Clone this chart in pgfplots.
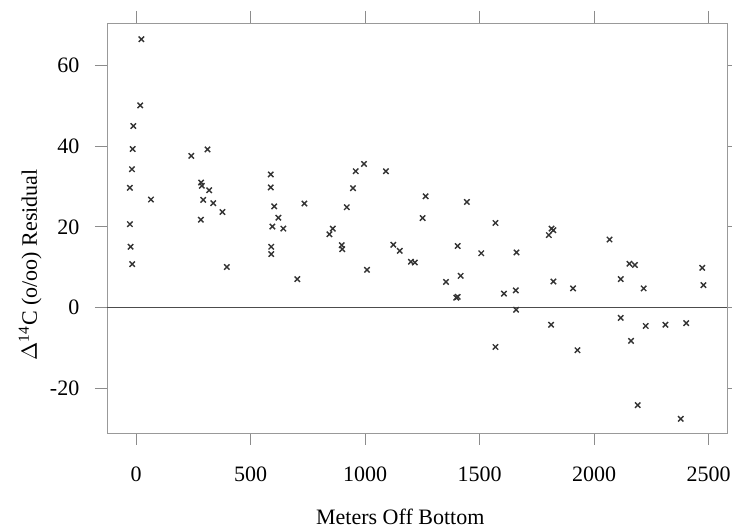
\documentclass[border=0pt]{standalone}
\usepackage{pgfplots}
\pgfplotsset{compat=1.18}
\usepackage{fontspec}
\setmainfont{Liberation Serif}
\begin{document}
\fontsize{11}{13}\selectfont
\begin{tikzpicture}
\begin{axis}[
  width=310pt, height=205pt, scale only axis,
  xmin=-127, xmax=2580, ymin=-31, ymax=70.5,
  xtick={0,500,1000,1500,2000,2500},
  ytick={-20,0,20,40,60},
  tick align=outside,
  major tick length=6pt,
  axis line style={black!40},
  every tick/.style={black!45, line width=0.5pt},
  /pgf/number format/assume math mode=true,
  /pgf/number format/1000 sep={},
  xticklabel style={font=\fontsize{11}{13}\selectfont, yshift=-7pt},
  yticklabel style={font=\fontsize{11}{13}\selectfont, xshift=-4pt},
  xlabel={Meters Off Bottom},
  ylabel={$\Delta$\textsuperscript{14}C (o/oo) Residual},
  xlabel style={at={(axis description cs:0.473,-0.205)}, anchor=center, font=\fontsize{11}{13}\selectfont},
  ylabel style={at={(axis description cs:-0.124,0.41)}, anchor=center, rotate=0, font=\fontsize{11}{13}\selectfont},
  clip=false,
]
\addplot[black!70, line width=0.7pt, no marks] coordinates {(-127,0) (2580,0)};
\addplot[only marks, mark=x, mark size=1.9pt, black!80, line width=0.7pt] table {
x y
23 66.5
18 50.1
-12 45
-15 39.3
-18 34.3
-27 29.7
65 26.8
-27 20.7
-24 15.1
-17 10.8
241 37.6
312 39.2
284 31.0
287 30.2
319 29.1
293 26.7
337 25.9
377 23.7
283 21.8
396 10.1
588 33.0
588 29.8
603 25.1
735 25.8
621 22.3
595 20.1
643 19.6
590 15.1
590 13.3
704 7.1
859 19.6
844 18.2
898 15.5
900 14.5
920 24.9
947 29.6
959 33.8
995 35.6
1091 33.8
1008 9.4
1123 15.6
1151 14.1
1200 11.4
1217 11.2
1264 27.6
1251 22.2
1444 26.2
1569 21.0
1814 19.6
1822 19.2
1802 18.0
2067 16.9
1404 15.3
1507 13.5
1661 13.7
1353 6.4
1417 7.9
1398 2.5
1404 2.7
1606 3.5
1658 4.3
1659 -0.5
1822 6.5
1908 4.8
2154 10.9
2178 10.6
2116 7.1
2216 4.8
2472 9.9
2477 5.6
2116 -2.5
2225 -4.5
2311 -4.2
2402 -3.8
1812 -4.2
1569 -9.7
1927 -10.5
2161 -8.2
2190 -24.1
2378 -27.5
};
\end{axis}
\pgfresetboundingbox
\path ([shift={(-53.5pt,-47pt)}]current axis.south west) rectangle ([shift={(2.5pt,11.5pt)}]current axis.north east);
\end{tikzpicture}
\end{document}
